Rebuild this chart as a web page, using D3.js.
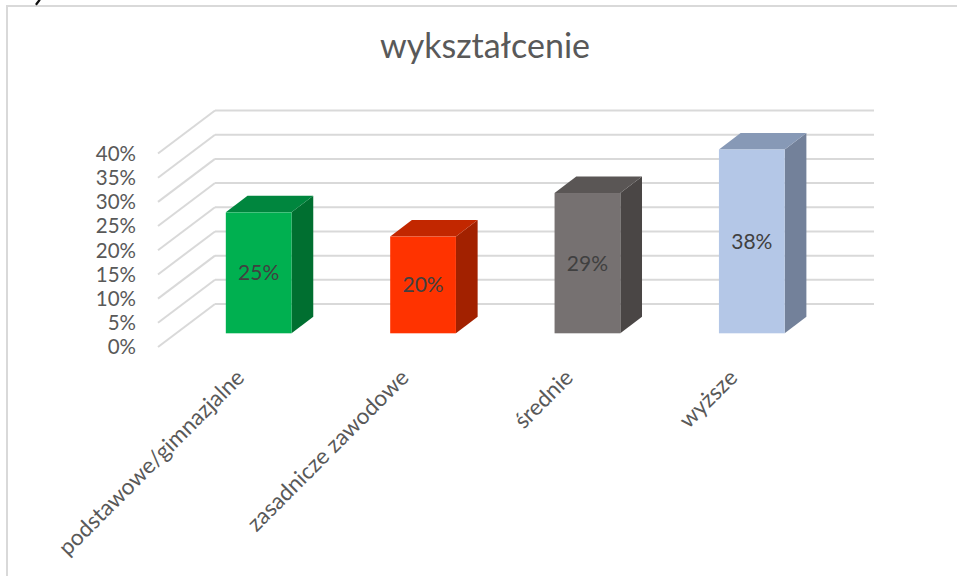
<!DOCTYPE html>
<html>
<head>
<meta charset="utf-8">
<script src="https://cdn.jsdelivr.net/npm/d3@7"></script>
<style>
html,body{margin:0;padding:0;background:#fff;}
svg{display:block;}
text{font-family:Lato,"Open Sans",sans-serif;}
</style>
</head>
<body>
<svg id="chart" width="957" height="576"></svg>
<script>
const categories = ["podstawowe/gimnazjalne", "zasadnicze zawodowe", "średnie", "wyższe"];
const values = [0.25, 0.20, 0.29, 0.38];
const tickValues = [0, 0.05, 0.10, 0.15, 0.20, 0.25, 0.30, 0.35, 0.40];
const valueLabels = ["25%", "20%", "29%", "38%"];
const title = "wykształcenie";

const frontColors = ["#00b050", "#ff3300", "#767171", "#b4c7e7"];
const topColors   = ["#00863e", "#c22700", "#5a5655", "#8799b6"];
const sideColors  = ["#006f30", "#a22100", "#4a4645", "#73819a"];

const svg = d3.select("#chart");

// frame
svg.append("path")
  .attr("d", "M7,576 L7,6 L957,6")
  .attr("fill", "none").attr("stroke", "#d9d9d9").attr("stroke-width", 2);

// cropped glyph fragment from content above the chart
svg.append("path").attr("d", "M36.5,4 L39.5,0").attr("stroke", "#111")
  .attr("stroke-width", 2.2).attr("stroke-linecap", "round");

// title
svg.append("text").attr("x", 485).attr("y", 58).attr("text-anchor", "middle")
  .attr("font-size", 34).attr("fill", "#595959").text(title);

// scales
const h = d3.scaleLinear().domain([0, 0.40]).range([0, 193.5]);
const x = d3.scaleBand().domain(categories).range([176.5, 834]).padding(0);
const barW = x.bandwidth() * 0.4;

const wallFrontX = 158, wallBackX = 215, wallRightX = 874;
const wallFrontBase = 347, wallBackBase = 304;
const barBase = 333.3;
const depthX = 21.7, depthY = -16.5;

// gridlines on back wall and side wall
const grid = svg.append("g").attr("stroke", "#d9d9d9").attr("stroke-width", 2).attr("fill", "none");
grid.selectAll("line.back").data(tickValues).join("line").attr("class", "back")
  .attr("x1", wallBackX).attr("x2", wallRightX)
  .attr("y1", d => wallBackBase - h(d)).attr("y2", d => wallBackBase - h(d));
grid.selectAll("line.side").data(tickValues).join("line").attr("class", "side")
  .attr("x1", wallFrontX).attr("x2", wallBackX)
  .attr("y1", d => wallFrontBase - h(d)).attr("y2", d => wallBackBase - h(d));

// tick labels
svg.append("g").selectAll("text").data(tickValues).join("text")
  .attr("x", 136).attr("y", d => wallFrontBase - h(d))
  .attr("dy", "0.36em").attr("text-anchor", "end")
  .attr("font-size", 20.5).attr("fill", "#595959")
  .text(d => d3.format(".0%")(d));

// bars
const bars = svg.append("g").selectAll("g").data(categories).join("g");
bars.each(function(c, i) {
  const g = d3.select(this);
  const x0 = x(c) + (x.bandwidth() - barW) / 2;
  const x1 = x0 + barW;
  const yTop = barBase - h(values[i]);
  g.append("path")
    .attr("d", `M${x1},${barBase} L${x1 + depthX},${barBase + depthY} L${x1 + depthX},${yTop + depthY} L${x1},${yTop} Z`)
    .attr("fill", sideColors[i]);
  g.append("path")
    .attr("d", `M${x0},${yTop} L${x0 + depthX},${yTop + depthY} L${x1 + depthX},${yTop + depthY} L${x1},${yTop} Z`)
    .attr("fill", topColors[i]);
  g.append("rect").attr("x", x0).attr("y", yTop).attr("width", barW).attr("height", barBase - yTop)
    .attr("fill", frontColors[i]);
  g.append("text").attr("x", (x0 + x1) / 2).attr("y", (yTop + barBase) / 2)
    .attr("dy", "0.36em").attr("text-anchor", "middle")
    .attr("font-size", 21).attr("fill", "#404040").text(valueLabels[i]);
});

// category labels
svg.append("g").selectAll("text").data(categories).join("text")
  .attr("transform", d => `translate(${x(d) + x.bandwidth() / 2 - 13},379) rotate(-45)`)
  .attr("text-anchor", "end")
  .attr("font-size", 22.5).attr("fill", "#595959")
  .text(d => d);
</script>
</body>
</html>
